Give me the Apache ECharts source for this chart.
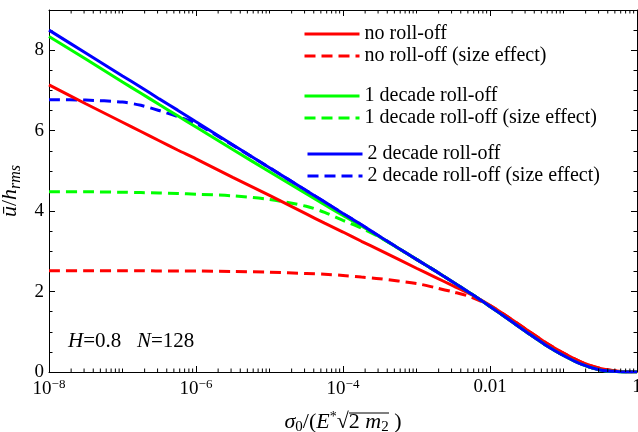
<!DOCTYPE html>
<html>
<head>
<meta charset="utf-8">
<script src="https://cdn.jsdelivr.net/npm/echarts@6/dist/echarts.min.js"></script>
<style>
  html, body { margin: 0; padding: 0; background: #fff; }
  #chart { width: 638px; height: 432px; }
</style>
</head>
<body>
<div id="chart"></div>
<script>
// Normalised load sigma0 / (E* sqrt(2 m2)) at which every curve is sampled
const loads = [1e-8, 3.16e-8, 1e-7, 1.78e-7, 3.16e-7, 5.62e-7, 1e-6, 3.16e-6, 1e-5, 3.16e-5, 5.62e-5,
  1e-4, 1.78e-4, 3.16e-4, 1e-3, 1.78e-3, 3.16e-3, 5.62e-3, 0.01, 0.0178, 0.0316, 0.0562, 0.1, 0.178, 0.316, 0.562, 1];

// Mean interfacial separation u / h_rms
const noRollOff = [7.14, 6.67, 6.21, 5.98, 5.75, 5.52, 5.30, 4.84, 4.39, 3.93, 3.70,
  3.48, 3.25, 3.03, 2.58, 2.36, 2.14, 1.92, 1.66, 1.36, 1.05, 0.74, 0.47, 0.24, 0.09, 0.02, 0.003];
const noRollOffSize = [2.52, 2.52, 2.52, 2.52, 2.51, 2.51, 2.51, 2.50, 2.48, 2.45, 2.43,
  2.40, 2.36, 2.32, 2.20, 2.10, 1.99, 1.86, 1.65, 1.36, 1.05, 0.74, 0.47, 0.24, 0.09, 0.02, 0.003];
const oneDecade = [8.34, 7.78, 7.21, 6.93, 6.65, 6.37, 6.09, 5.53, 4.98, 4.43, 4.16,
  3.89, 3.63, 3.36, 2.80, 2.52, 2.23, 1.94, 1.63, 1.31, 0.99, 0.68, 0.41, 0.19, 0.05, 0.008, 0];
const oneDecadeSize = [4.48, 4.48, 4.47, 4.46, 4.45, 4.44, 4.42, 4.38, 4.29, 4.12, 3.97,
  3.77, 3.58, 3.35, 2.80, 2.52, 2.23, 1.94, 1.63, 1.31, 0.99, 0.68, 0.41, 0.19, 0.05, 0.008, 0];
const twoDecade = [8.50, 7.93, 7.36, 7.08, 6.79, 6.51, 6.22, 5.65, 5.08, 4.51, 4.23,
  3.94, 3.66, 3.37, 2.80, 2.52, 2.23, 1.94, 1.63, 1.31, 0.99, 0.68, 0.41, 0.19, 0.05, 0.008, 0];
const twoDecadeSize = [6.77, 6.76, 6.71, 6.63, 6.50, 6.35, 6.18, 5.64, 5.08, 4.51, 4.23,
  3.94, 3.66, 3.37, 2.80, 2.52, 2.23, 1.94, 1.63, 1.31, 0.99, 0.68, 0.41, 0.19, 0.05, 0.008, 0];

const seriesNames = [
  'no roll-off', 'no roll-off (size effect)',
  '1 decade roll-off', '1 decade roll-off (size effect)',
  '2 decade roll-off', '2 decade roll-off (size effect)'
];

// Decades that carry a tick label on the load axis
const xTickExponents = [-8, -6, -4, -2, 0];
const yTickLabels = [0, 2, 4, 6, 8];

const FONT = "'Liberation Serif', 'Times New Roman', serif";
const RED = '#ff0000', GREEN = '#00ff00', BLUE = '#0000ff';
const DASH = [11, 6];

// Short log ticks (1..9 x 10^n) between the labelled decades
const minorLogTicks = [];
for (let n = -8; n < 0; n++) {
  for (let k = 1; k <= 9; k++) {
    if (k === 1 && xTickExponents.indexOf(n) >= 0) continue;
    minorLogTicks.push([k * Math.pow(10, n), 0]);
  }
}

function pairs(ys) { return loads.map((x, i) => [x, ys[i]]); }

function lineSeries(name, ys, color, dashed, z) {
  return {
    name: name,
    type: 'line',
    xAxisIndex: 0,
    yAxisIndex: 0,
    data: pairs(ys),
    symbol: 'none',
    smooth: 0.3,
    z: z,
    lineStyle: { color: color, width: 3, type: dashed ? DASH : 'solid' },
    itemStyle: { color: color }
  };
}

const richText = {
  i: { fontFamily: FONT, fontStyle: 'italic', fontSize: 22, color: '#000' },
  n: { fontFamily: FONT, fontSize: 22, color: '#000' },
  sub: { fontFamily: FONT, fontSize: 15, color: '#000', padding: [10, 0, 0, 0] },
  isub: { fontFamily: FONT, fontStyle: 'italic', fontSize: 16, color: '#000', padding: [10, 0, 0, 0] },
  sup: { fontFamily: FONT, fontSize: 14, color: '#000', padding: [0, 0, 10, 0] },
  t: { fontFamily: FONT, fontSize: 19, color: '#000' },
  tsup: { fontFamily: FONT, fontSize: 13, color: '#000', padding: [0, 0, 10, 0] }
};

function xLabel(v) {
  const e = Math.round(Math.log10(v));
  if (xTickExponents.indexOf(e) < 0) return '';
  if (e === 0) return '{t|1}';
  if (e === -2) return '{t|0.01}';
  return '{t|10}{tsup|\u2212' + (-e) + '}';
}

const baseX = {
  type: 'log',
  logBase: 10,
  min: 1e-8,
  max: 1,
  interval: 2,
  splitLine: { show: false },
  axisLine: { show: true, onZero: false, lineStyle: { color: '#000', width: 1 } },
  axisTick: { show: true, inside: true, length: 6, lineStyle: { color: '#000' } }
};

const baseY = {
  type: 'value',
  min: 0,
  max: 9,
  splitLine: { show: false },
  axisLine: { show: true, onZero: false, lineStyle: { color: '#000', width: 1 } }
};

const chart = echarts.init(document.getElementById('chart'), null, { renderer: 'canvas' });

chart.setOption({
  animation: false,
  backgroundColor: '#fff',
  grid: { left: 49, top: 10, width: 588, height: 362, containLabel: false, outerBoundsMode: 'none' },
  xAxis: [
    Object.assign({}, baseX, {
      position: 'bottom',
      name: '{i|\u03c3}{sub|0}{n|/(}{i|E}{sup|*}{n|\u221a}{n|2 }{i|m}{sub|2}{n| )}',
      nameLocation: 'middle',
      nameGap: 38,
      nameTextStyle: { fontFamily: FONT, fontSize: 22, color: '#000', rich: richText },
      axisLabel: {
        show: true, margin: 6, formatter: xLabel, rich: richText,
        showMinLabel: true, showMaxLabel: true, hideOverlap: false
      }
    }),
    Object.assign({}, baseX, {
      position: 'top',
      axisLabel: { show: false }
    })
  ],
  yAxis: [
    Object.assign({}, baseY, {
      position: 'left',
      interval: 2,
      axisTick: { show: true, inside: true, length: 6, lineStyle: { color: '#000' } },
      axisLabel: {
        show: true, margin: 5, fontFamily: FONT, fontSize: 19, color: '#000',
        showMaxLabel: false,
        formatter: v => (yTickLabels.indexOf(v) >= 0 ? String(v) : '')
      },
      name: '{i|\u016b}{n|/}{i|h}{isub|rms}',
      nameLocation: 'middle',
      nameGap: 18,
      nameRotate: 90,
      nameTextStyle: { fontFamily: FONT, fontSize: 22, color: '#000', rich: richText }
    }),
    Object.assign({}, baseY, {
      position: 'left',
      interval: 0.5,
      axisLine: { show: false },
      axisTick: { show: true, inside: true, length: 3.5, lineStyle: { color: '#000' } },
      axisLabel: { show: false }
    }),
    Object.assign({}, baseY, {
      position: 'right',
      interval: 2,
      axisTick: { show: true, inside: true, length: 6, lineStyle: { color: '#000' } },
      axisLabel: { show: false }
    }),
    Object.assign({}, baseY, {
      position: 'right',
      interval: 0.5,
      axisLine: { show: false },
      axisTick: { show: true, inside: true, length: 3.5, lineStyle: { color: '#000' } },
      axisLabel: { show: false }
    })
  ],
  legend: [
    { data: [seriesNames[0], seriesNames[1]], left: 303, top: 24 },
    { data: [seriesNames[2], seriesNames[3]], left: 303, top: 86 },
    { data: [seriesNames[4], seriesNames[5]], left: 306, top: 144 }
  ].map(l => Object.assign({
    orient: 'vertical',
    padding: 0,
    itemWidth: 55,
    itemHeight: 14,
    itemGap: 2,
    selectedMode: false,
    itemStyle: { opacity: 0 },
    lineStyle: { width: 3 },
    textStyle: { fontFamily: FONT, fontSize: 20, color: '#000', lineHeight: 20 }
  }, l)),
  graphic: [
    {
      type: 'text',
      left: 68,
      top: 331,
      style: {
        text: '{i|H}{n|=0.8}{n|   }{i|N}{n|=128}',
        rich: {
          i: { fontFamily: FONT, fontStyle: 'italic', fontSize: 21, fill: '#000' },
          n: { fontFamily: FONT, fontSize: 21, fill: '#000' }
        }
      }
    },
    {
      // radical bar over "2 m2" in the load-axis title
      type: 'line',
      shape: { x1: 349, y1: 413, x2: 389, y2: 413 },
      style: { stroke: '#000', lineWidth: 1 }
    }
  ],
  series: [
    lineSeries(seriesNames[1], noRollOffSize, RED, true, 2),
    lineSeries(seriesNames[3], oneDecadeSize, GREEN, true, 2),
    lineSeries(seriesNames[5], twoDecadeSize, BLUE, true, 2),
    lineSeries(seriesNames[0], noRollOff, RED, false, 3),
    lineSeries(seriesNames[2], oneDecade, GREEN, false, 3),
    lineSeries(seriesNames[4], twoDecade, BLUE, false, 3),
    {
      type: 'custom',
      xAxisIndex: 0,
      yAxisIndex: 0,
      silent: true,
      z: 5,
      clip: false,
      data: minorLogTicks,
      encode: { x: 0, y: 1 },
      renderItem: function (params, api) {
        const x = api.coord([api.value(0), 0])[0];
        const cs = params.coordSys;
        const yb = cs.y + cs.height, yt = cs.y;
        return {
          type: 'group',
          children: [
            { type: 'line', shape: { x1: x, y1: yb, x2: x, y2: yb - 3.5 }, style: { stroke: '#000', lineWidth: 1 } },
            { type: 'line', shape: { x1: x, y1: yt, x2: x, y2: yt + 3.5 }, style: { stroke: '#000', lineWidth: 1 } }
          ]
        };
      }
    }
  ]
});
</script>
</body>
</html>
